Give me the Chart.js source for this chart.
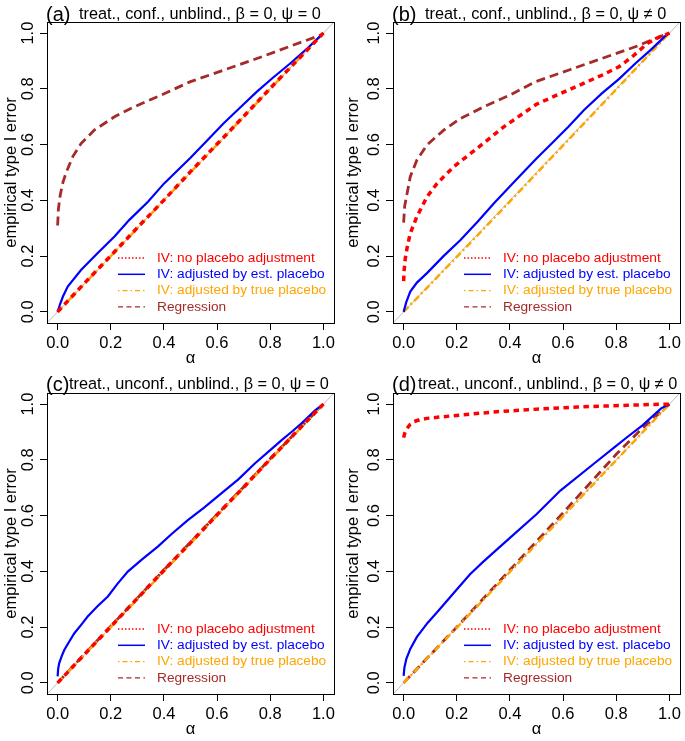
<!DOCTYPE html>
<html>
<head>
<meta charset="utf-8">
<script src="https://cdn.jsdelivr.net/npm/chart.js@4.4.1/dist/chart.umd.min.js"></script>
<style>
  body { margin: 0; background: #fff; }
  #wrap { position: relative; width: 685px; height: 741px; }
  canvas { position: absolute; }
</style>
</head>
<body>
<div id="wrap">
  <canvas id="pa" width="342" height="370" style="left:0;top:0"></canvas>
  <canvas id="pb" width="343" height="370" style="left:342px;top:0"></canvas>
  <canvas id="pc" width="342" height="371" style="left:0;top:370px"></canvas>
  <canvas id="pd" width="343" height="371" style="left:342px;top:370px"></canvas>
</div>
<script>
// axis ticks
const axisTicks = [0, 0.2, 0.4, 0.6, 0.8, 1.0];
const diagX = [-0.04, 1.04];
const diagY = [-0.04, 1.04];

// (a) treat., conf., unblind., psi = 0
const noAdjAx = [0, 0.1, 0.2, 0.3, 0.4, 0.5, 0.6, 0.7, 0.8, 0.9, 1];
const noAdjAy = [0, 0.102, 0.201, 0.302, 0.401, 0.503, 0.602, 0.701, 0.802, 0.901, 1];
const estAx = [0, 0.01, 0.02, 0.038, 0.088, 0.15, 0.214, 0.27, 0.34, 0.4, 0.5, 0.56, 0.624, 0.69, 0.75, 0.81, 0.875, 0.94, 1];
const estAy = [0, 0.03, 0.055, 0.091, 0.15, 0.21, 0.27, 0.33, 0.395, 0.46, 0.553, 0.612, 0.676, 0.736, 0.79, 0.84, 0.891, 0.946, 1];
const trueAx = [0, 0.2, 0.4, 0.6, 0.8, 1];
const trueAy = [0, 0.2, 0.4, 0.6, 0.8, 1];
const regAx = [0, 0.003, 0.01, 0.02, 0.031, 0.057, 0.088, 0.138, 0.214, 0.289, 0.39, 0.5, 0.624, 0.75, 0.875, 0.99, 1];
const regAy = [0.31, 0.37, 0.42, 0.465, 0.497, 0.557, 0.604, 0.652, 0.70, 0.736, 0.778, 0.826, 0.867, 0.909, 0.953, 0.993, 1];

// (b) treat., conf., unblind., psi != 0
const noAdjBx = [0, 0.002, 0.006, 0.013, 0.025, 0.05, 0.088, 0.126, 0.189, 0.277, 0.377, 0.5, 0.62, 0.746, 0.81, 0.86, 0.92, 0.96, 1];
const noAdjBy = [0.11, 0.15, 0.19, 0.23, 0.282, 0.342, 0.413, 0.461, 0.521, 0.587, 0.664, 0.745, 0.796, 0.849, 0.879, 0.915, 0.965, 0.985, 1];
const estBx = [0, 0.01, 0.025, 0.05, 0.088, 0.15, 0.214, 0.28, 0.34, 0.42, 0.5, 0.56, 0.62, 0.68, 0.746, 0.81, 0.872, 0.93, 0.985, 1];
const estBy = [0, 0.035, 0.073, 0.105, 0.139, 0.2, 0.258, 0.325, 0.39, 0.47, 0.55, 0.607, 0.664, 0.725, 0.784, 0.835, 0.891, 0.94, 0.99, 1];
const trueBx = [0, 0.2, 0.4, 0.6, 0.8, 1];
const trueBy = [0, 0.197, 0.396, 0.597, 0.798, 1];
const regBx = [0, 0.004, 0.013, 0.025, 0.05, 0.088, 0.151, 0.214, 0.302, 0.4, 0.494, 0.62, 0.746, 0.872, 0.947, 1];
const regBy = [0.32, 0.38, 0.425, 0.485, 0.545, 0.599, 0.652, 0.694, 0.736, 0.778, 0.825, 0.867, 0.909, 0.951, 0.981, 1];

// (c) treat., unconf., unblind., psi = 0
const noAdjCx = [0, 0.1, 0.2, 0.3, 0.4, 0.5, 0.6, 0.7, 0.8, 0.9, 1];
const noAdjCy = [0, 0.101, 0.202, 0.303, 0.404, 0.503, 0.603, 0.702, 0.803, 0.902, 1];
const estCx = [0, 0.002, 0.006, 0.015, 0.025, 0.045, 0.063, 0.09, 0.113, 0.15, 0.189, 0.225, 0.264, 0.32, 0.377, 0.43, 0.49, 0.55, 0.616, 0.68, 0.742, 0.8, 0.843, 0.88, 0.918, 0.969, 1];
const estCy = [0.023, 0.05, 0.071, 0.095, 0.118, 0.15, 0.178, 0.21, 0.238, 0.275, 0.31, 0.355, 0.399, 0.445, 0.489, 0.535, 0.584, 0.628, 0.68, 0.73, 0.787, 0.835, 0.871, 0.9, 0.931, 0.978, 1];
const trueCx = [0, 0.2, 0.4, 0.6, 0.8, 1];
const trueCy = [0, 0.2, 0.4, 0.6, 0.8, 1];
const regCx = [0, 0.1, 0.2, 0.3, 0.4, 0.5, 0.6, 0.7, 0.8, 0.9, 1];
const regCy = [0, 0.102, 0.203, 0.304, 0.405, 0.504, 0.604, 0.703, 0.804, 0.902, 1];

// (d) treat., unconf., unblind., psi != 0
const noAdjDx = [0, 0.004, 0.013, 0.025, 0.038, 0.06, 0.088, 0.15, 0.214, 0.34, 0.465, 0.654, 0.843, 0.98, 1];
const noAdjDy = [0.88, 0.895, 0.913, 0.928, 0.937, 0.944, 0.949, 0.955, 0.961, 0.972, 0.98, 0.99, 0.996, 1, 1];
const estDx = [0, 0.003, 0.01, 0.025, 0.05, 0.09, 0.13, 0.2, 0.25, 0.3, 0.4, 0.5, 0.59, 0.717, 0.8, 0.843, 0.9, 0.969, 1];
const estDy = [0.025, 0.055, 0.085, 0.122, 0.165, 0.215, 0.258, 0.335, 0.39, 0.435, 0.52, 0.605, 0.69, 0.787, 0.85, 0.883, 0.925, 0.985, 1];
const trueDx = [0, 0.2, 0.4, 0.6, 0.8, 1];
const trueDy = [0, 0.198, 0.398, 0.598, 0.799, 1];
const regDx = [0, 0.2, 0.4, 0.6, 0.7, 0.8, 0.9, 1];
const regDy = [0, 0.2, 0.405, 0.61, 0.715, 0.82, 0.915, 1];

const legendLabels = ["IV: no placebo adjustment", "IV: adjusted by est. placebo", "IV: adjusted by true placebo", "Regression"];

const FONT = "'Liberation Sans', Arial, Helvetica, sans-serif";
const RED = "#FF0000", BLUE = "#0000FF", ORANGE = "#FFA500", BROWN = "#A52A2A", GREY = "#BEBEBE";

// thin line samples used in the legend
const legendStyles = [
    { color: RED, width: 1.3, dash: [1.5, 2] },
    { color: BLUE, width: 1.5, dash: [] },
    { color: ORANGE, width: 1.3, dash: [1.5, 3, 5, 3] },
    { color: BROWN, width: 1.3, dash: [5, 3.5] },
];

function pts(xs, ys) {
    return xs.map((x, i) => ({ x, y: ys[i] }));
}

// box, title and legend drawn on top of each panel
const panelDeco = {
    id: "panelDeco",
    afterDraw(chart, args, opts) {
        const ctx = chart.ctx;
        const a = chart.chartArea;
        ctx.save();
        ctx.strokeStyle = "#000";
        ctx.lineWidth = 1;
        ctx.setLineDash([]);
        ctx.strokeRect(Math.round(a.left) + 0.5, Math.round(a.top) + 0.5, Math.round(a.right - a.left), Math.round(a.bottom - a.top));

        ctx.fillStyle = "#000";
        ctx.textBaseline = "middle";
        ctx.textAlign = "left";
        ctx.font = `20px ${FONT}`;
        ctx.fillText(opts.tag, a.left - 1, 15);
        ctx.font = `16.3px ${FONT}`;
        ctx.fillText(opts.text, a.left + opts.textX, 15);

        ctx.font = `13.7px ${FONT}`;
        legendLabels.forEach((lab, i) => {
            const y = a.bottom - 65 + i * 16.3;
            const st = legendStyles[i];
            ctx.strokeStyle = st.color;
            ctx.lineWidth = st.width;
            ctx.setLineDash(st.dash);
            ctx.beginPath();
            ctx.moveTo(a.left + 71, y);
            ctx.lineTo(a.left + 98, y);
            ctx.stroke();
            ctx.setLineDash([]);
            ctx.fillStyle = st.color;
            ctx.fillText(lab, a.left + 110, y);
        });
        ctx.restore();
    }
};

function makePanel(id, tag, text, textX, area, series) {
    const canvas = document.getElementById(id);
    const W = canvas.width, H = canvas.height;
    const tickFont = { family: FONT, size: 16.5 };
    const axis = (extra) => Object.assign({
        type: "linear",
        min: -0.04,
        max: 1.04,
        afterBuildTicks: s => { s.ticks = axisTicks.map(v => ({ value: v })); },
        grid: { drawOnChartArea: false, drawTicks: true, tickLength: 7, color: "#000", lineWidth: 1 },
        border: { display: false },
    }, extra);

    new Chart(canvas, {
        type: "line",
        data: {
            datasets: [
                { data: pts(series.noAdj[0], series.noAdj[1]), borderColor: RED, borderWidth: 3.5, borderDash: [5.5, 4.5], order: 1 },
                { data: pts(series.est[0], series.est[1]), borderColor: BLUE, borderWidth: 2.2, order: 2 },
                { data: pts(series.tru[0], series.tru[1]), borderColor: ORANGE, borderWidth: 2.5, borderDash: [7, 3, 2, 3], order: 3 },
                { data: pts(series.reg[0], series.reg[1]), borderColor: BROWN, borderWidth: 2.8, borderDash: [9, 5], order: 4 },
                { data: pts(diagX, diagY), borderColor: GREY, borderWidth: 1, order: 5 },
            ],
        },
        options: {
            responsive: false,
            animation: false,
            parsing: true,
            elements: { point: { radius: 0 }, line: { tension: 0, fill: false } },
            layout: { padding: { left: 0, top: area.top, right: W - area.right, bottom: 0 } },
            plugins: {
                legend: { display: false },
                tooltip: { enabled: false },
                panelDeco: { tag, text, textX },
            },
            scales: {
                x: axis({
                    position: "bottom",
                    afterFit: s => { s.height = H - area.bottom; },
                    ticks: { color: "#000", font: tickFont, padding: 4, maxRotation: 0, autoSkip: false, callback: v => v.toFixed(1) },
                    title: { display: true, text: "α", color: "#000", font: tickFont, padding: { top: 0, bottom: 2 } },
                }),
                y: axis({
                    position: "left",
                    afterFit: s => { s.width = area.left; },
                    ticks: { color: "#000", font: tickFont, padding: 0, minRotation: 90, maxRotation: 90, crossAlign: "center", autoSkip: false, callback: v => v.toFixed(1) },
                    title: { display: true, text: "empirical type I error", color: "#000", font: tickFont, padding: { top: 2, bottom: 0 } },
                }),
            },
        },
        plugins: [panelDeco],
    });
}

makePanel("pa", "(a)", "treat., conf., unblind., β = 0, ψ = 0", 32, { left: 47, right: 334, top: 22, bottom: 323 },
    { noAdj: [noAdjAx, noAdjAy], est: [estAx, estAy], tru: [trueAx, trueAy], reg: [regAx, regAy] });
makePanel("pb", "(b)", "treat., conf., unblind., β = 0, ψ ≠ 0", 32, { left: 51, right: 338, top: 22, bottom: 323 },
    { noAdj: [noAdjBx, noAdjBy], est: [estBx, estBy], tru: [trueBx, trueBy], reg: [regBx, regBy] });
makePanel("pc", "(c)", "treat., unconf., unblind., β = 0, ψ = 0", 22, { left: 47, right: 334, top: 23, bottom: 324 },
    { noAdj: [noAdjCx, noAdjCy], est: [estCx, estCy], tru: [trueCx, trueCy], reg: [regCx, regCy] });
makePanel("pd", "(d)", "treat., unconf., unblind., β = 0, ψ ≠ 0", 25, { left: 51, right: 338, top: 23, bottom: 324 },
    { noAdj: [noAdjDx, noAdjDy], est: [estDx, estDy], tru: [trueDx, trueDy], reg: [regDx, regDy] });
</script>
</body>
</html>
